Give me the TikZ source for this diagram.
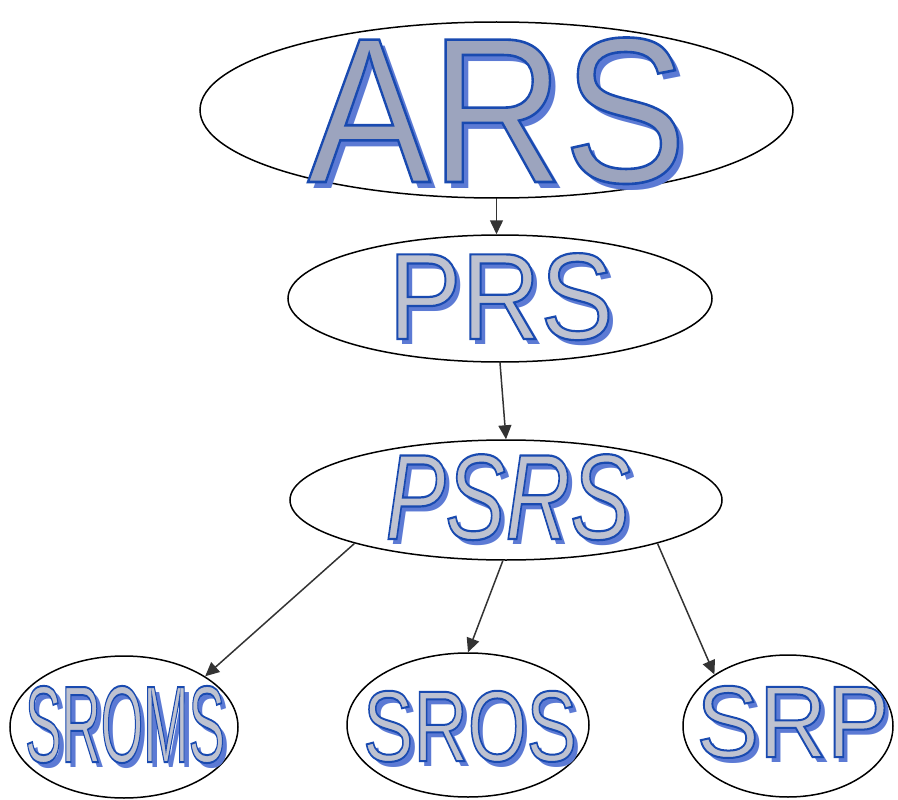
\documentclass[tikz,border=0pt]{standalone}
\usepackage{fontspec}
\setmainfont{Liberation Sans}
\usetikzlibrary{shapes.geometric,arrows.meta}
\definecolor{shadowblue}{RGB}{92,122,212}
\definecolor{fillgray}{RGB}{156,164,190}
\definecolor{filllight}{RGB}{190,194,208}
\newcommand\wordart[6]{% #1 size, #2 xscale, #3 shadow offset, #4 stroke width, #5 fill colour, #6 text
\fontsize{#1}{#1}\selectfont\rlap{\hspace*{#3pt}\raisebox{-#3pt}{\scalebox{#2}[1]{\color{shadowblue}#6}}}\scalebox{#2}[1]{\color{#5}\special{pdf:code 2 Tr #4 w 0.10 0.29 0.69 RG}#6\special{pdf:code 0 Tr}}}
\begin{document}
\begin{tikzpicture}[x=1pt,y=-1pt,
  ell/.style={ellipse,draw=black,line width=1.5pt,inner sep=0pt},
  arr/.style={draw=black!80,line width=1.5pt,-{Triangle[length=14pt,width=13pt]}},
  wa/.style={inner sep=0pt,anchor=base}]
\useasboundingbox (0,0) rectangle (898,800);
% ellipses
\node[ell,minimum width=593pt,minimum height=176pt] (ars) at (496.5,110) {};
\node[ell,minimum width=424pt,minimum height=127pt] (prs) at (500,298.5) {};
\node[ell,minimum width=432pt,minimum height=120pt] (psrs) at (506,500) {};
\node[ell,minimum width=228pt,minimum height=142pt] (sroms) at (124,727) {};
\node[ell,minimum width=242pt,minimum height=144pt] (sros) at (468,725) {};
\node[ell,minimum width=210pt,minimum height=142pt] (srp) at (788,726) {};
% connectors
\draw[arr] (ars.south) -- (ars.south |- prs.north);
\draw[arr] (prs.south) -- (psrs.north);
\draw[arr] (psrs.196) -- (sroms.32);
\draw[arr] (psrs.267) -- (sros.north);
\draw[arr] (psrs.344) -- (srp.145);
% texts
\node[wa] (arst) at (497,182) {\wordart{207}{0.89}{6}{2.6}{fillgray}{ARS}};
\node[wa] (prst) at (501,339) {\wordart{123}{0.89}{5}{2.2}{filllight}{PRS}};
\node[wa] (psrst) at (508,539) {\itshape\wordart{121.5}{0.74}{5}{2.2}{filllight}{PSRS}};
\node[wa] (sromst) at (125,762) {\wordart{109}{0.50}{5}{2.0}{filllight}{SROMS}};
\node[wa] (srost) at (470,761) {\wordart{100.6}{0.75}{5}{2.0}{filllight}{SROS}};
\node[wa] (srpt) at (793,757) {\wordart{102}{0.92}{5}{2.0}{filllight}{SRP}};
\end{tikzpicture}
\end{document}
